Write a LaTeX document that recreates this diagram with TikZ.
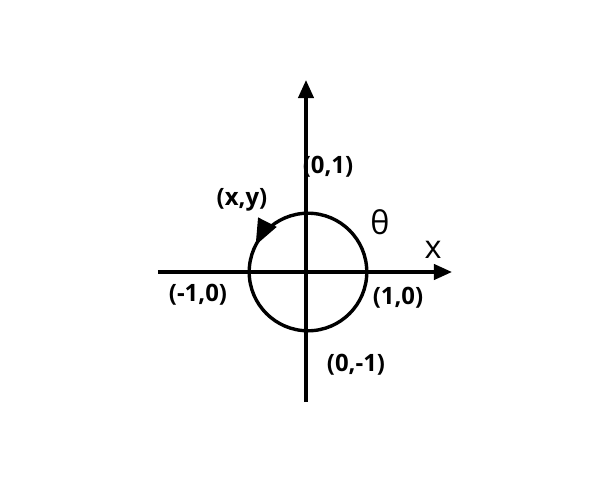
\documentclass[tikz,border=0pt]{standalone}
\usepackage{fontspec}
\setmainfont{Open Sans}
\usetikzlibrary{arrows.meta,positioning,calc,decorations.markings}

\begin{document}
\begin{tikzpicture}[
				      every node/.style={align=center, font=\fontsize{17}{19}\selectfont\bfseries},
				      axis/.style={line width=0.85mm, -{Triangle[length=4.5mm, width=3.8mm]}},  % arrows on both axes
				      ring/.style={line width=0.85mm, postaction={decorate}, decoration={markings,
				          mark=at position 0.425 with {\arrow{Triangle[length=6.5mm, width=5mm]}}}},
				      pointLabel/.style={inner sep=1pt},
				      axisLabel/.style={inner sep=1pt, font=\fontsize{23}{25}\selectfont}
			      ]
			      \useasboundingbox (-7.65,-5.2) rectangle (7.35,6.8);

			      % axes ends
			      \coordinate (xL) at (-3.7,0);
			      \coordinate (xR) at (3.65,0);
			      \coordinate (yB) at (0,-3.25);
			      \coordinate (yT) at (0,4.8);
			      \coordinate (O) at (0.05,0);

			      \draw[axis] (xL) -- (xR);
			      \draw[axis] (yB) -- (yT);

			      % unit circle, arrow counterclockwise
			      \draw[ring] ($(O)+(1.47,0)$) arc[start angle=0, end angle=360, radius=1.47];

			      % labels
			      \node[pointLabel] (top) at (0.55,2.63) {(0,1)};
			      \node[pointLabel] (xy) at (-1.6,1.8) {(x,y)};
			      \node[axisLabel] (theta) at (1.85,1.25) {θ};
			      \node[axisLabel] (xlab) at (3.18,0.55) {x};
			      \node[pointLabel] (left) at (-2.7,-0.58) {(-1,0)};
			      \node[pointLabel] (right) at (2.3,-0.65) {(1,0)};
			      \node[pointLabel] (bottom) at (1.25,-2.33) {(0,-1)};
		      \end{tikzpicture}
\end{document}
